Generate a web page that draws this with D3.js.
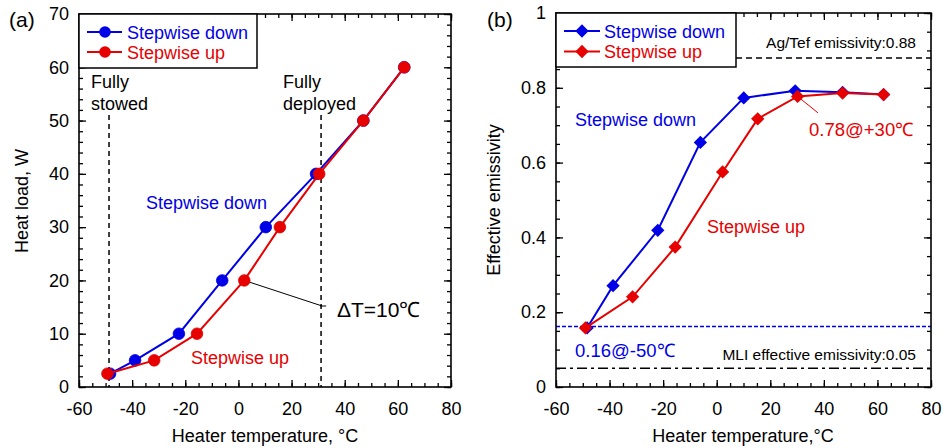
<!DOCTYPE html>
<html>
<head>
<meta charset="utf-8">
<script src="https://cdn.jsdelivr.net/npm/d3@7"></script>
<style>
  html, body { margin: 0; padding: 0; background: #fff; }
  svg text { font-family: "Liberation Sans", Arial, Helvetica, sans-serif; }
</style>
</head>
<body>
<svg id="chart" width="943" height="448"></svg>
<script>
// ---------- data ----------
const seriesNames = ["Stepwise down", "Stepwise up"];
// Panel (a): heat load vs heater temperature
const tempDownA = [-48.3, -38.9, -22.4, -6.1, 10.3, 29.2, 47.0, 62.4];
const loadDownA = [2.5, 5, 10, 20, 30, 40, 50, 60];
const tempUpA   = [-49.3, -31.7, -15.6, 2.2, 15.6, 30.4, 47.0, 62.4];
const loadUpA   = [2.5, 5, 10, 20, 30, 40, 50, 60];
const stowedTemp = -48.7;
const deployedTemp = 31.1;
// Panel (b): effective emissivity vs heater temperature
const tempDownB = [-48.4, -38.7, -22.0, -6.1, 10.1, 29.3, 47.0, 62.3];
const emisDownB = [0.158, 0.271, 0.419, 0.654, 0.773, 0.792, 0.788, 0.782];
const tempUpB   = [-49.0, -31.4, -15.5, 2.2, 15.3, 30.2, 47.0, 62.3];
const emisUpB   = [0.158, 0.241, 0.374, 0.575, 0.717, 0.777, 0.786, 0.782];
const agTefEmissivity = 0.88;
const mliEmissivity = 0.05;
const stowedEmissivity = 0.162;
// ticks
const xTicks = [-60, -40, -20, 0, 20, 40, 60, 80];
const xTickLabels = ["-60", "-40", "-20", "0", "20", "40", "60", "80"];
const yTicksA = [0, 10, 20, 30, 40, 50, 60, 70];
const yTickLabelsA = ["0", "10", "20", "30", "40", "50", "60", "70"];
const yTicksB = [0, 0.2, 0.4, 0.6, 0.8, 1];
const yTickLabelsB = ["0", "0.2", "0.4", "0.6", "0.8", "1"];

const BLUE = "#0000e6", RED = "#e60000";
const svg = d3.select("#chart");

function zip(xs, ys) { return xs.map((v, i) => [v, ys[i]]); }

function frame(g, x, y, yTicks, yLabels, xMinorStep, yMinorCount) {
  const [x0, x1] = x.range();
  const [y0, y1] = y.range();
  const fmtX = d => xTickLabels[xTicks.indexOf(d)];
  const fmtY = d => yLabels[yTicks.indexOf(d)];
  const xMinor = x.ticks(28);
  const yMinor = y.ticks(yMinorCount);
  const style = sel => {
    sel.select(".domain").remove();
    sel.selectAll("line").attr("stroke", "#000").attr("stroke-width", 1.3);
    sel.selectAll("text").attr("fill", "#000").attr("font-size", 18);
  };
  // bottom
  g.append("g").attr("transform", `translate(0,${y0})`)
    .call(d3.axisBottom(x).tickValues(xMinor).tickSize(-4).tickFormat("")).call(style);
  g.append("g").attr("transform", `translate(0,${y0})`)
    .call(d3.axisBottom(x).tickValues(xTicks).tickSize(-7).tickPadding(15).tickFormat(fmtX)).call(style);
  // top
  g.append("g").attr("transform", `translate(0,${y1})`)
    .call(d3.axisTop(x).tickValues(xMinor).tickSize(-4).tickFormat("")).call(style);
  g.append("g").attr("transform", `translate(0,${y1})`)
    .call(d3.axisTop(x).tickValues(xTicks).tickSize(-7).tickFormat("")).call(style);
  // left
  g.append("g").attr("transform", `translate(${x0},0)`)
    .call(d3.axisLeft(y).tickValues(yMinor).tickSize(-4).tickFormat("")).call(style);
  g.append("g").attr("transform", `translate(${x0},0)`)
    .call(d3.axisLeft(y).tickValues(yTicks).tickSize(-7).tickPadding(10).tickFormat(fmtY)).call(style);
  // right
  g.append("g").attr("transform", `translate(${x1},0)`)
    .call(d3.axisRight(y).tickValues(yMinor).tickSize(-4).tickFormat("")).call(style);
  g.append("g").attr("transform", `translate(${x1},0)`)
    .call(d3.axisRight(y).tickValues(yTicks).tickSize(-7).tickFormat("")).call(style);
}

function border(g, x, y) {
  const [x0, x1] = x.range();
  const [y0, y1] = y.range();
  g.append("rect").attr("x", x0).attr("y", y1).attr("width", x1 - x0).attr("height", y0 - y1)
    .attr("fill", "none").attr("stroke", "#000").attr("stroke-width", 1.6);
}

function series(g, x, y, pts, color, marker) {
  const line = d3.line().x(d => x(d[0])).y(d => y(d[1]));
  g.append("path").datum(pts).attr("d", line).attr("fill", "none")
    .attr("stroke", color).attr("stroke-width", 2);
  if (marker === "circle") {
    g.selectAll(null).data(pts).enter().append("circle")
      .attr("cx", d => x(d[0])).attr("cy", d => y(d[1])).attr("r", 5.8)
      .attr("fill", color).attr("stroke", color).attr("stroke-width", 0.8);
  } else {
    const sym = d3.symbol().type(d3.symbolSquare).size(88);
    g.selectAll(null).data(pts).enter().append("path")
      .attr("d", sym)
      .attr("transform", d => `translate(${x(d[0])},${y(d[1])}) rotate(45)`)
      .attr("fill", color);
  }
}

function legend(g, bx0, by0, bx1, by1, lx0, lx1, mx, rows, tx, marker) {
  g.append("rect").attr("x", bx0).attr("y", by0).attr("width", bx1 - bx0).attr("height", by1 - by0)
    .attr("fill", "#fff").attr("stroke", "#000").attr("stroke-width", 1.5);
  rows.forEach((r, i) => {
    g.append("line").attr("x1", lx0).attr("x2", lx1).attr("y1", r.y).attr("y2", r.y)
      .attr("stroke", r.color).attr("stroke-width", 2);
    if (marker === "circle") {
      g.append("circle").attr("cx", mx).attr("cy", r.y).attr("r", 5.8).attr("fill", r.color);
    } else {
      g.append("path").attr("d", d3.symbol().type(d3.symbolSquare).size(88))
        .attr("transform", `translate(${mx},${r.y}) rotate(45)`).attr("fill", r.color);
    }
    g.append("text").attr("x", tx).attr("y", r.y + 6.5).attr("font-size", 18)
      .attr("fill", r.color).text(seriesNames[i]);
  });
}

function label(g, x, y, txt, opts = {}) {
  const t = g.append("text").attr("x", x).attr("y", y).text(txt)
    .attr("font-size", opts.size || 18).attr("fill", opts.color || "#000");
  if (opts.anchor) t.attr("text-anchor", opts.anchor);
  if (opts.rotate) t.attr("transform", `rotate(-90,${x},${y})`);
  return t;
}

// ---------- Panel (a) ----------
{
  const g = svg.append("g");
  const x = d3.scaleLinear().domain([-60, 80]).range([79, 451]);
  const y = d3.scaleLinear().domain([0, 70]).range([387, 14]);
  frame(g, x, y, yTicksA, yTickLabelsA, 5, 35);

  // stowed / deployed dashed lines
  [stowedTemp, deployedTemp].forEach(t => {
    g.append("line").attr("x1", x(t)).attr("x2", x(t)).attr("y1", 115).attr("y2", y(0))
      .attr("stroke", "#000").attr("stroke-width", 1.5).attr("stroke-dasharray", "5,4");
  });

  // leader line for ΔT
  const lx = x(31.5), ly = y(15.2);
  g.append("line").attr("x1", x(tempUpA[3])).attr("y1", y(loadUpA[3])).attr("x2", lx).attr("y2", ly)
    .attr("stroke", "#000").attr("stroke-width", 1);
  g.append("line").attr("x1", lx - 2).attr("y1", ly).attr("x2", lx + 4).attr("y2", ly)
    .attr("stroke", "#000").attr("stroke-width", 1);

  series(g, x, y, zip(tempDownA, loadDownA), BLUE, "circle");
  series(g, x, y, zip(tempUpA, loadUpA), RED, "circle");
  border(g, x, y);

  legend(g, 79, 14, 257, 68, 87, 122, 105,
    [{ y: 32, color: BLUE }, { y: 52, color: RED }], 127, "circle");

  label(g, 91, 88, "Fully");
  label(g, 91, 110, "stowed");
  label(g, 283, 88, "Fully");
  label(g, 283, 110, "deployed");
  label(g, 146, 209, "Stepwise down", { color: BLUE });
  label(g, 191, 364, "Stepwise up", { color: RED });
  label(g, 337, 317, "ΔT=10℃", { size: 21 });

  label(g, 9, 27, "(a)", { size: 21 });
  label(g, 265, 442, "Heater temperature, °C", { anchor: "middle" });
  label(g, 28, 201, "Heat load, W", { anchor: "middle", rotate: true });
}

// ---------- Panel (b) ----------
{
  const g = svg.append("g");
  const x = d3.scaleLinear().domain([-60, 80]).range([556, 931]);
  const y = d3.scaleLinear().domain([0, 1]).range([387, 13]);
  frame(g, x, y, yTicksB, yTickLabelsB, 5, 20);

  const [x0, x1] = x.range();
  g.append("line").attr("x1", x0).attr("x2", x1).attr("y1", y(agTefEmissivity)).attr("y2", y(agTefEmissivity))
    .attr("stroke", "#000").attr("stroke-width", 1.5).attr("stroke-dasharray", "6,4");
  g.append("line").attr("x1", x0).attr("x2", x1).attr("y1", y(mliEmissivity)).attr("y2", y(mliEmissivity))
    .attr("stroke", "#000").attr("stroke-width", 1.5).attr("stroke-dasharray", "10,4,3,4");
  g.append("line").attr("x1", x0).attr("x2", x1).attr("y1", y(stowedEmissivity)).attr("y2", y(stowedEmissivity))
    .attr("stroke", BLUE).attr("stroke-width", 1.5).attr("stroke-dasharray", "4,2");

  // leader for 0.78@+30℃
  g.append("line").attr("x1", x(tempUpB[5])).attr("y1", y(emisUpB[5])).attr("x2", x(37.8)).attr("y2", y(0.733))
    .attr("stroke", RED).attr("stroke-width", 1);

  series(g, x, y, zip(tempDownB, emisDownB), BLUE, "diamond");
  series(g, x, y, zip(tempUpB, emisUpB), RED, "diamond");
  border(g, x, y);

  legend(g, 556, 13, 736, 67, 564, 600, 582,
    [{ y: 31, color: BLUE }, { y: 51.5, color: RED }], 604, "diamond");

  label(g, 916, 48, "Ag/Tef emissivity:0.88", { size: 15.5, anchor: "end" });
  label(g, 916, 360, "MLI effective emissivity:0.05", { size: 15.5, anchor: "end" });
  label(g, 575, 357, "0.16@-50℃", { color: BLUE, size: 18.5 });
  label(g, 809, 136, "0.78@+30℃", { color: RED, size: 18.5 });
  label(g, 575, 126, "Stepwise down", { color: BLUE });
  label(g, 707, 233, "Stepwise up", { color: RED });

  label(g, 487, 27, "(b)", { size: 21 });
  label(g, 743, 442, "Heater temperature,°C", { anchor: "middle" });
  label(g, 500, 200, "Effective emissivity", { anchor: "middle", rotate: true });
}
</script>
</body>
</html>
